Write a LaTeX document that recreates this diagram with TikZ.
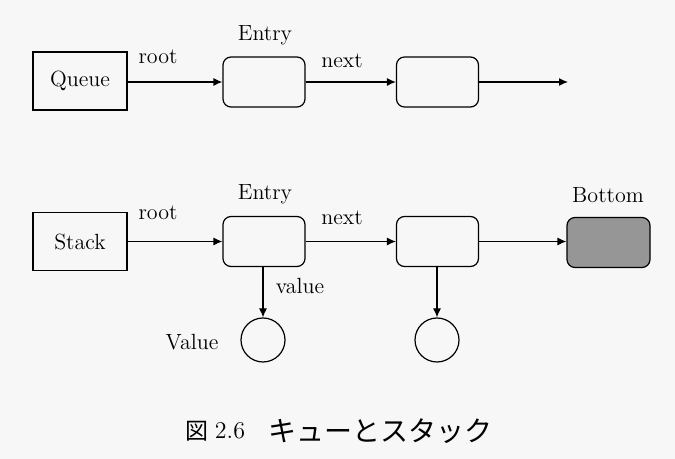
\documentclass[tikz,border=0pt]{standalone}
\usepackage{fontspec}
\newfontfamily\cjk{Noto Sans CJK JP}
\usetikzlibrary{arrows.meta}
\definecolor{bgc}{RGB}{247,247,247}
\definecolor{boxfill}{RGB}{150,150,150}
\begin{document}
\begin{tikzpicture}[x=0.5pt,y=-0.5pt,
  lbl/.style={font=\fontsize{11}{13}\selectfont, inner sep=0pt},
  plainbox/.style={draw, line width=0.6pt, minimum width=47pt, minimum height=29pt, inner sep=0pt, font=\fontsize{11}{13}\selectfont},
  entrybox/.style={draw, line width=0.6pt, rounded corners=4pt, minimum width=41pt, minimum height=25pt, inner sep=0pt},
  valcircle/.style={draw, line width=0.6pt, circle, minimum size=22pt, inner sep=0pt},
  link/.style={draw, line width=0.6pt, -{Latex[length=4.5pt,width=4pt]}}]
\fill[bgc] (0,0) rectangle (675,459);
\useasboundingbox (0,0) rectangle (675,459);
% Queue row
\node[plainbox] (queue) at (80,81) {Queue};
\node[entrybox] (qe1) at (264,82) {};
\node[entrybox] (qe2) at (437.5,82) {};
\coordinate (qend) at (568,82);
\node[lbl] (qroot) at (158,57) {root};
\node[lbl] (qentry) at (265,35) {Entry};
\node[lbl] (qnext) at (342,61) {next};
\draw[link] (queue.east |- qe1.west) -- (qe1.west);
\draw[link] (qe1.east) -- (qe2.west);
\draw[link] (qe2.east) -- (qend);
% Stack row
\node[plainbox] (stack) at (80,241.5) {Stack};
\node[entrybox] (se1) at (264,241.5) {};
\node[entrybox] (se2) at (437.5,241.5) {};
\node[entrybox, fill=boxfill, minimum width=41.5pt] (bottom) at (608.5,242.5) {};
\node[lbl] (sroot) at (158,213) {root};
\node[lbl] (sentry) at (265,194) {Entry};
\node[lbl] (snext) at (342,218) {next};
\node[lbl] (bottomlbl) at (608,195) {Bottom};
\draw[link] (stack.east) -- (se1.west);
\draw[link] (se1.east) -- (se2.west);
\draw[link] (se2.east) -- (bottom.west |- se2.east);
% values
\node[valcircle] (v1) at (263,340) {};
\node[valcircle] (v2) at (437,340) {};
\draw[link] (se1.south -| v1.north) -- (v1.north);
\draw[link] (se2.south -| v2.north) -- (v2.north);
\node[lbl] (valuelbl) at (300,286) {value};
\node[lbl] (Valuelbl) at (192,342) {Value};
% caption
\node[inner sep=0pt, font=\fontsize{11.5}{13}\selectfont\cjk] (capfig) at (197,431) {図};
\node[lbl, font=\fontsize{12}{14}\selectfont] (capnum) at (230,431) {2.6};
\node[inner sep=0pt, font=\fontsize{14}{16}\selectfont\cjk] (captext) at (380,431) {キューとスタック};
\end{tikzpicture}
\end{document}
